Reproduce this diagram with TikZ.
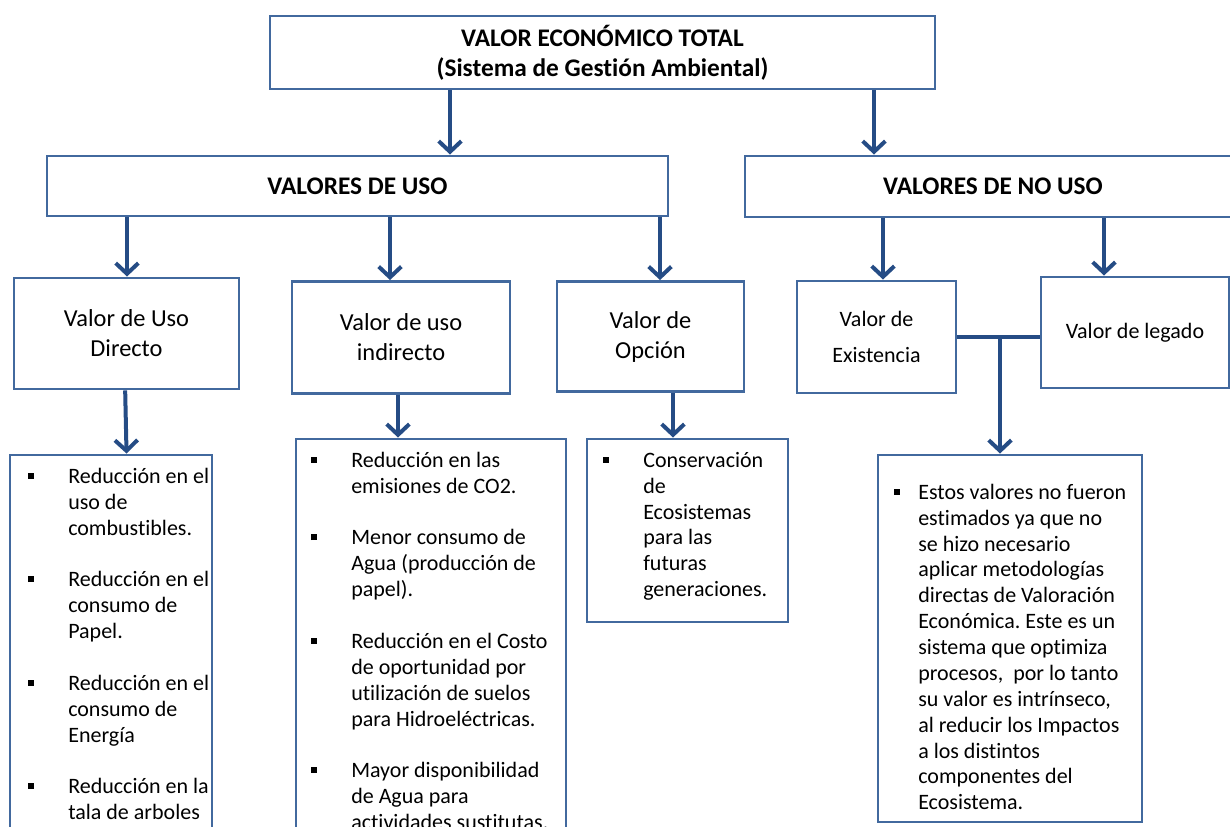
\documentclass[tikz,border=0pt]{standalone}
\usepackage{fontspec}
\setmainfont{Carlito}[Ligatures=NoCommon]
\usetikzlibrary{arrows.meta}
\definecolor{borde}{RGB}{66,105,158}
\definecolor{azul}{RGB}{37,76,133}
\newcommand\bul[1]{\llap{\rule[3.6pt]{4.5pt}{4.5pt}\hspace{#1}}}
\frenchspacing
\tikzset{
  caja/.style={draw=borde, fill=white, line width=2.2pt, inner sep=0pt, align=center},
  titulo/.style={font=\fontsize{19}{22.5}\selectfont\bfseries},
  valor/.style={font=\fontsize{18.3}{22.5}\selectfont},
  valorb/.style={font=\fontsize{16.5}{27}\selectfont},
  lista/.style={anchor=north west, inner sep=0pt, align=left, font=\fontsize{16.5}{19.4}\selectfont},
  flecha/.style={draw=azul, line width=3pt, -{Straight Barb[length=8pt,width=17pt]}},
}

\begin{document}
\begin{tikzpicture}[x=0.75pt,y=-0.75pt]
  \useasboundingbox (0,0) rectangle (1230,827);
  \clip (0,0) rectangle (1230,827);

  \node [caja,titulo,minimum width=498.75pt,minimum height=54.75pt] (total) at (602.5,52.5)
  {VALOR ECONÓMICO TOTAL\\(Sistema de Gestión Ambiental)};
  \node [caja,titulo,minimum width=465.75pt,minimum height=45pt] (uso) at (357.5,186) {VALORES DE USO};
  \node [caja,titulo,minimum width=372pt,minimum height=45.75pt] (nouso) at (993,186.5) {VALORES DE NO USO};

  \node [caja,valor,minimum width=168.75pt,minimum height=83.25pt] (directo) at (126.5,333.5) {Valor de Uso\\Directo};
  \node [caja,valor,minimum width=163.5pt,minimum height=84pt] (indirecto) at (401,337.5) {Valor de uso\\indirecto};
  \node [caja,valor,minimum width=140.25pt,minimum height=82.5pt] (opcion) at (650.5,336.5) {Valor de\\Opción};
  \node [caja,valorb,minimum width=119.25pt,minimum height=84pt] (existencia) at (876.5,337) {Valor de\\Existencia};
  \node [caja,valorb,minimum width=141pt,minimum height=83.25pt] (legado) at (1135,332.5) {Valor de legado};

  \node [caja,minimum width=151.5pt,minimum height=292.5pt] (ld) at (111,650) {};
  \node [caja,minimum width=202.5pt,minimum height=304.5pt] (li) at (431,642) {};
  \node [caja,minimum width=150.75pt,minimum height=137.25pt] (lo) at (687.5,530.5) {};
  \node [caja,minimum width=198pt,minimum height=275.25pt] (ln) at (1010,638.5) {};

  \node [lista] (ld-txt) at (68,465) {\bul{26pt}\strut Reducción en el\\uso de\\combustibles.\\[19.4pt]
    \bul{26pt}Reducción en el\\consumo de\\Papel.\\[19.4pt]
    \bul{26pt}Reducción en el\\consumo de\\Energía\\[19.4pt]
    \bul{26pt}Reducción en la\\tala de arboles};
  \node [lista] (li-txt) at (351,449) {\bul{25.5pt}\strut Reducción en las\\emisiones de CO2.\\[19.4pt]
    \bul{25.5pt}Menor consumo de\\Agua (producción de\\papel).\\[19.4pt]
    \bul{25.5pt}Reducción en el Costo\\de oportunidad por\\utilización de suelos\\para Hidroeléctricas.\\[19.4pt]
    \bul{25.5pt}Mayor disponibilidad\\de Agua para\\actividades sustitutas.};
  \node [lista] (lo-txt) at (643,449) {\bul{25.5pt}\strut Conservación\\de\\Ecosistemas\\para las\\futuras\\generaciones.};
  \node [lista] (ln-txt) at (918,481) {\bul{13.5pt}\strut Estos valores no fueron\\estimados ya que no\\se hizo necesario\\aplicar metodologías\\directas de Valoración\\Económica. Este es un\\sistema que optimiza\\procesos,~ por lo tanto\\su valor es intrínseco,\\al reducir los Impactos\\a los distintos\\componentes del\\Ecosistema.};

  \draw [flecha] (total.south -| 450,0) -- (uso.north -| 450,0);
  \draw [flecha] (total.south -| 874,0) -- (nouso.north -| 874,0);
  \draw [flecha] (uso.south -| 127,0) -- (directo.north -| 127,0);
  \draw [flecha] (uso.south -| 390,0) -- (indirecto.north -| 390,0);
  \draw [flecha] (uso.south -| 660,0) -- (opcion.north -| 660,0);
  \draw [flecha] (nouso.south -| 883,0) -- (existencia.north -| 883,0);
  \draw [flecha] (nouso.south -| 1104,0) -- (legado.north -| 1104,0);
  \draw [flecha] ([xshift=-1pt]directo.south) -- ([xshift=88.5pt]ld.north west);
  \draw [flecha] (indirecto.south -| 398,0) -- (li.north -| 398,0);
  \draw [flecha] (opcion.south -| 673,0) -- (lo.north -| 673,0);
  \draw [azul,line width=3pt] (existencia.east) -- (legado.west |- existencia.east);
  \draw [flecha] (existencia.east -| 1000,0) -- (ln.north -| 1000,0);
\end{tikzpicture}
\end{document}
